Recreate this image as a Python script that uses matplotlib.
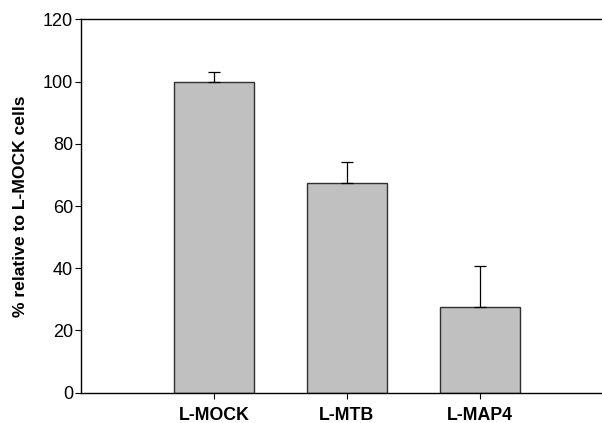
import matplotlib
matplotlib.use('Agg')
from matplotlib import pyplot as plt

# values
groups = ['L-MOCK', 'L-MTB', 'L-MAP4']
percent = [100.0, 67.4, 27.7]
percent_err = [3.2, 6.7, 13.1]
y_ticks = [0, 20, 40, 60, 80, 100, 120]

plt.rcParams['font.family'] = ['Liberation Sans', 'DejaVu Sans']

fig = plt.figure(figsize=(6.02, 4.23), dpi=100)
ax = fig.add_axes([81 / 602, (423 - 392.7) / 423, 1 - 81 / 602, (392.7 - 19.3) / 423])

pos = list(range(1, len(groups) + 1))
ax.bar(pos, percent, width=0.6, color='#c0c0c0', edgecolor='#303030', linewidth=1.0, zorder=2)
ax.errorbar(pos, percent, yerr=[[0] * len(percent_err), percent_err], fmt='none',
            ecolor='black', elinewidth=0.9, capsize=4.3, capthick=0.9, zorder=3)

ax.set_xlim(0, 3.92)
ax.set_ylim(0, 120)
ax.set_yticks(y_ticks)
ax.set_xticks(pos)
ax.set_xticklabels(groups, fontweight='bold', fontsize=12.8)
ax.tick_params(axis='y', labelsize=13, length=4.3, width=0.8, direction='out', pad=1.5)
ax.tick_params(axis='x', length=4.3, width=0.8, direction='out', pad=6)

ax.spines['right'].set_visible(False)
for side in ['left', 'bottom', 'top']:
    ax.spines[side].set_linewidth(1.0)
    ax.spines[side].set_color('black')

ax.set_ylabel('% relative to L-MOCK cells', fontweight='bold', fontsize=12.6)
ax.yaxis.set_label_coords(-0.101, 0.5)

fig.savefig('out.png', dpi=100)
